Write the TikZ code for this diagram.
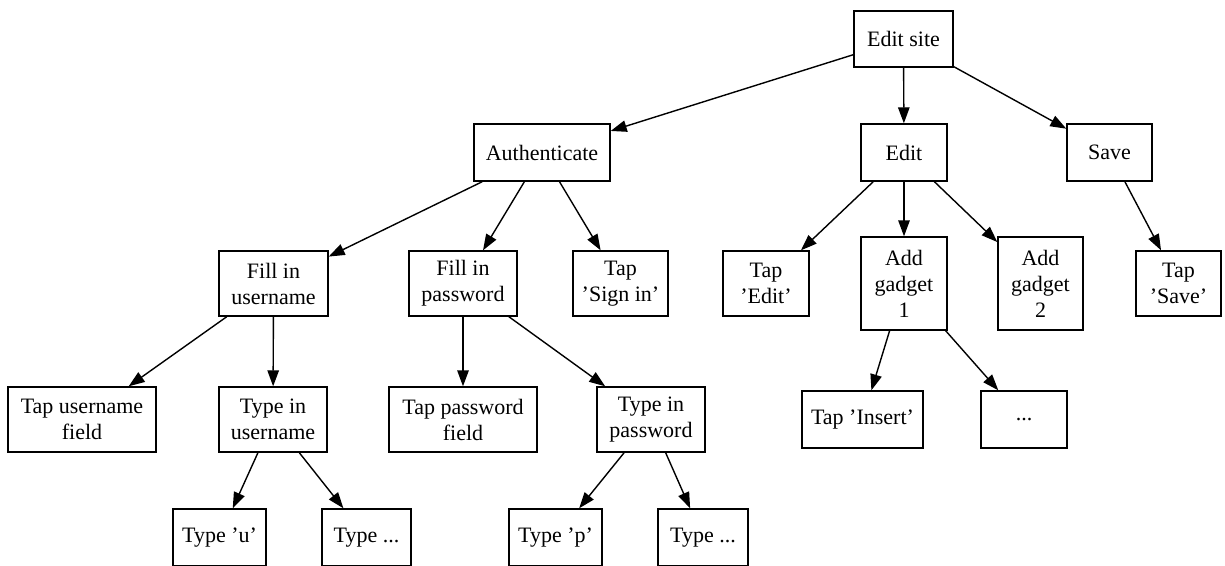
\documentclass[tikz,border=0pt]{standalone}
\usepackage{fontspec}
\setmainfont{Liberation Serif}
\usetikzlibrary{arrows.meta}

\begin{document}
\begin{tikzpicture}[x=1pt,y=-1pt,
  box/.style={draw, rectangle, line width=1.4pt, inner sep=0pt, align=center,
              font=\fontsize{22}{26}\selectfont},
  sz/.style 2 args={minimum width=#1pt, minimum height=#2pt},
  link/.style={line width=1.4pt, -{Triangle[length=16pt,width=11.5pt]}}]
\useasboundingbox (0,0) rectangle (1225,565);

% rank 0
\node[box, sz={99}{56}] (es) at (903.5,39) {Edit site};
% rank 1
\node[box, sz={136}{57}] (au) at (542,152.5) {Authenticate};
\node[box, sz={86}{57}] (ed) at (904,152.5) {Edit};
\node[box, sz={85}{57}] (sv) at (1109.5,152.5) {Save};
% rank 2
\node[box, sz={109}{65}] (fu) at (273.5,283.5) {Fill in\\username};
\node[box, sz={108}{65}] (fp) at (463,283.5) {Fill in\\password};
\node[box, sz={95}{65}] (ts) at (620.5,283.5) {Tap\\’Sign in’};
\node[box, sz={86}{65}] (te) at (766,283.5) {Tap\\’Edit’};
\node[box, sz={86}{93}] (g1) at (904,283.5) {Add\\gadget\\1};
\node[box, sz={85}{93}] (g2) at (1040.5,283.5) {Add\\gadget\\2};
\node[box, sz={85}{65}] (tsv) at (1178.5,283.5) {Tap\\’Save’};
% rank 3
\node[box, sz={148}{65}] (tuf) at (82,419.5) {Tap username\\field};
\node[box, sz={108}{65}] (tu) at (273,419.5) {Type in\\username};
\node[box, sz={148}{65}] (tpf) at (463,419.5) {Tap password\\field};
\node[box, sz={108}{65}] (tp) at (651,419.5) {Type in\\password};
\node[box, sz={121}{57}] (ti) at (862.5,419.5) {Tap ’Insert’};
\node[box, sz={86}{57}] (more) at (1024,419.5) {...};
% rank 4
\node[box, sz={93}{57}] (yu) at (219.5,537.5) {Type ’u’};
\node[box, sz={89}{57}] (yud) at (366.5,537.5) {Type ...};
\node[box, sz={93}{57}] (yp) at (555.5,537.5) {Type ’p’};
\node[box, sz={90}{57}] (ypd) at (703,537.5) {Type ...};

% edges
\draw[link] (es) -- (au);
\draw[link] (es) -- (ed);
\draw[link] (es) -- (sv);
\draw[link] (au) -- (fu);
\draw[link] (au) -- (fp);
\draw[link] (au) -- (ts);
\draw[link] (ed) -- (te);
\draw[link] (ed) -- (g1);
\draw[link] (ed) -- (g2);
\draw[link] (sv) -- (tsv);
\draw[link] (fu) -- (tuf);
\draw[link] (fu) -- (tu);
\draw[link] (fp) -- (tpf);
\draw[link] (fp) -- (tp);
\draw[link] (tu) -- (yu);
\draw[link] (tu) -- (yud);
\draw[link] (tp) -- (yp);
\draw[link] (tp) -- (ypd);
\draw[link] (g1) -- (ti);
\draw[link] (g1) -- (more);
\end{tikzpicture}
\end{document}
